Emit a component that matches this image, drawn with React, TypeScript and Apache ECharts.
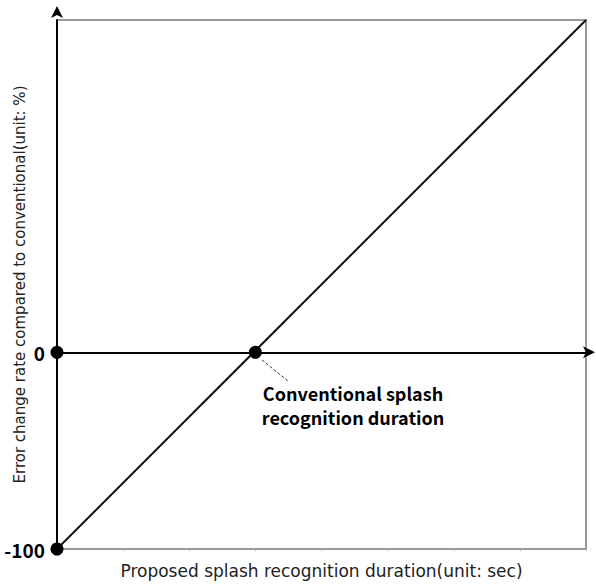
import React, { useEffect, useRef } from "react";
import * as echarts from "echarts";

const xRange = [0, 8];
const yRange = [-100, 169];
const lineData: [number, number][] = [
  [0, -100],
  [8, 169],
];
const keyPoints: [number, number][] = [
  [0, 0],
  [3, 0],
  [0, -100],
];
const yTickLabels = ["-100", "0"];
const xName = "Proposed splash recognition duration(unit: sec)";
const yName = "Error change rate compared to conventional(unit: %)";
const annotation = "Conventional splash\nrecognition duration";

export default function App() {
  const ref = useRef<HTMLDivElement>(null);
  useEffect(() => {
    document.body.style.margin = "0";
    const chart = echarts.init(ref.current!, undefined, { renderer: "svg" });
    chart.setOption({
      animation: false,
      backgroundColor: "#fff",
      grid: {
        left: 57,
        right: 10,
        top: 20,
        bottom: 36,
        containLabel: false,
        outerBoundsMode: "none",
        show: true,
        borderColor: "#999",
        borderWidth: 2,
      },
      xAxis: [
        {
          type: "value",
          min: xRange[0],
          max: xRange[1],
          interval: 1,
          axisLine: {
            onZero: true,
            lineStyle: { color: "#000", width: 2 },
            symbol: ["none", "arrow"],
            symbolSize: [9, 12],
            symbolOffset: [0, 9],
          },
          axisTick: { show: false },
          axisLabel: { show: false },
          splitLine: { show: false },
        },
        {
          type: "value",
          position: "bottom",
          min: xRange[0],
          max: xRange[1],
          interval: 1,
          axisLine: { onZero: false, lineStyle: { color: "#999", width: 2 } },
          axisTick: { show: true, length: 2, inside: false, lineStyle: { color: "#aaa" } },
          axisLabel: { show: false },
          splitLine: { show: false },
          name: xName,
          nameLocation: "middle",
          nameGap: 13,
          nameMoveOverlap: false,
          nameTextStyle: { fontFamily: "DejaVu Sans", fontSize: 17, color: "#222" },
        },
      ],
      yAxis: {
        type: "value",
        min: yRange[0],
        max: yRange[1],
        interval: 100,
        axisLine: {
          onZero: false,
          lineStyle: { color: "#000", width: 2 },
          symbol: ["none", "arrow"],
          symbolSize: [9, 12],
          symbolOffset: [0, 14],
        },
        axisTick: { show: false },
        axisLabel: {
          margin: 12,
          fontFamily: "Noto Sans CJK KR",
          fontWeight: "bold",
          fontSize: 19,
          color: "#000",
          formatter: (v: number) => (yTickLabels.includes(String(v)) ? String(v) : ""),
        },
        splitLine: { show: false },
        name: yName,
        nameLocation: "middle",
        nameGap: 30,
        nameMoveOverlap: false,
        nameTextStyle: { fontFamily: "DejaVu Sans", fontSize: 15, color: "#222" },
      },
      series: [
        {
          type: "line",
          data: lineData,
          showSymbol: false,
          lineStyle: { color: "#111", width: 2 },
          clip: false,
          z: 3,
        },
        {
          type: "scatter",
          data: keyPoints,
          symbolSize: 13,
          itemStyle: { color: "#000", opacity: 1 },
          clip: false,
          z: 5,
        },
      ],
      graphic: [
        {
          type: "line",
          shape: { x1: 262, y1: 360, x2: 288, y2: 381 },
          style: { stroke: "#333", lineWidth: 1, lineDash: [3, 2] },
        },
        {
          type: "text",
          x: 353,
          y: 405,
          style: {
            text: annotation,
            fontFamily: "Noto Sans CJK KR",
            fontWeight: "bold",
            fontSize: 18,
            lineHeight: 24,
            fill: "#000",
            align: "center",
            verticalAlign: "middle",
          },
        },
      ],
    });
    return () => chart.dispose();
  }, []);
  return <div ref={ref} style={{ width: 596, height: 585 }} />;
}
